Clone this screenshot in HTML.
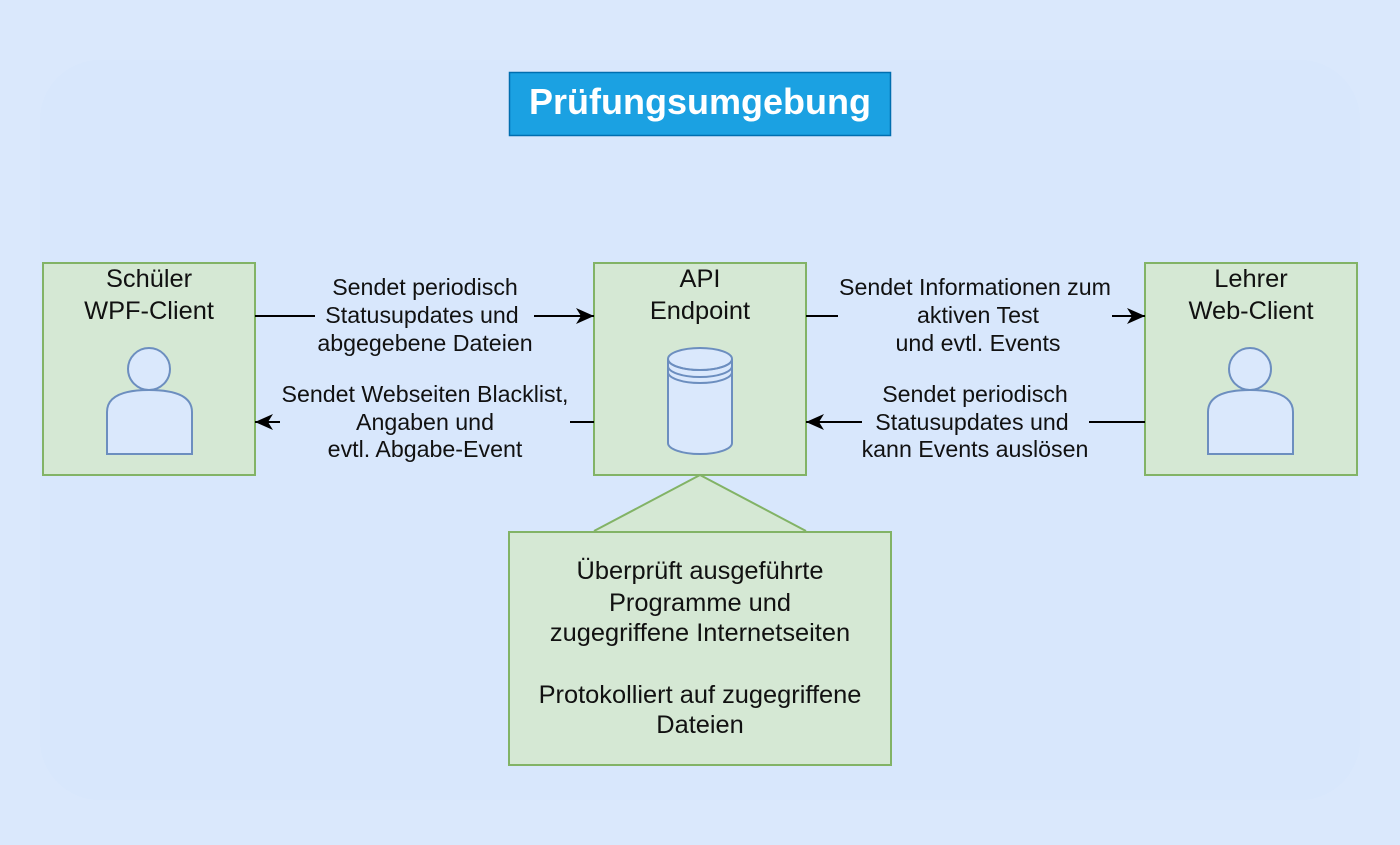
<!DOCTYPE html>
<html><head><meta charset="utf-8"><style>
html,body{margin:0;padding:0;background:#dae8fc;}
svg{display:block;}
text{font-family:"Liberation Sans",Arial,sans-serif;fill:#111;}
</style></head><body>
<svg width="1400" height="845" viewBox="0 0 1400 845" xmlns="http://www.w3.org/2000/svg">
<defs>
<marker id="ah" markerWidth="20" markerHeight="20" refX="18" refY="10" orient="auto" markerUnits="userSpaceOnUse">
<path d="M0,2 L18,10 L0,18 L5,10 Z" fill="#000"/>
</marker>
</defs>
<rect width="1400" height="845" fill="#dae8fc"/>
<rect x="40" y="60" width="1320" height="740" rx="60" fill="#d7e6fb" opacity="0.6"/>
<rect x="509.5" y="72.5" width="381" height="63" fill="#1ba1e2" stroke="#006eaf" stroke-width="1.5"/>
<text x="700" y="114" font-size="36" font-weight="bold" text-anchor="middle" style="fill:#fff">Prüfungsumgebung</text>

<g fill="#d5e8d4" stroke="#82b366" stroke-width="2">
<rect x="43" y="263" width="212" height="212"/>
<rect x="594" y="263" width="212" height="212"/>
<rect x="1145" y="263" width="212" height="212"/>
<path d="M594,531 L700,475 L806,531"/>
<rect x="509" y="532" width="382" height="233"/>
</g>

<g font-size="25.4" text-anchor="middle">
<text x="149" y="287">Schüler</text><text x="149" y="319">WPF-Client</text>
<text x="700" y="287">API</text><text x="700" y="319">Endpoint</text>
<text x="1251" y="287">Lehrer</text><text x="1251" y="319">Web-Client</text>
<text x="700" y="579">Überprüft ausgeführte</text>
<text x="700" y="611">Programme und</text>
<text x="700" y="641">zugegriffene Internetseiten</text>
<text x="700" y="703">Protokolliert auf zugegriffene</text>
<text x="700" y="733">Dateien</text>
</g>

<g fill="#dae8fc" stroke="#6c8ebf" stroke-width="2">
<path d="M107,454 L107,412 Q107,390 149,390 Q192,390 192,412 L192,454 Z"/>
<circle cx="149" cy="369" r="21"/>
<path d="M1208,454 L1208,412 Q1208,390 1250,390 Q1293,390 1293,412 L1293,454 Z"/>
<circle cx="1250" cy="369" r="21"/>
<path d="M668,359 L668,443 A32,11 0 0 0 732,443 L732,359"/>
<ellipse cx="700" cy="359" rx="32" ry="11"/>
<path d="M668,359 A32,11 0 0 0 732,359 M668,366 A32,11 0 0 0 732,366 M668,372 A32,11 0 0 0 732,372" fill="none"/>
</g>

<g stroke="#000" stroke-width="2" fill="none">
<line x1="255" y1="316" x2="315" y2="316"/>
<line x1="534" y1="316" x2="594" y2="316" marker-end="url(#ah)"/>
<line x1="806" y1="316" x2="838" y2="316"/>
<line x1="1112" y1="316" x2="1145" y2="316" marker-end="url(#ah)"/>
<line x1="594" y1="422" x2="570" y2="422"/>
<line x1="280" y1="422" x2="255" y2="422" marker-end="url(#ah)"/>
<line x1="1145" y1="422" x2="1089" y2="422"/>
<line x1="862" y1="422" x2="806" y2="422" marker-end="url(#ah)"/>
</g>

<g font-size="23.2" text-anchor="middle">
<text x="425" y="295">Sendet periodisch</text>
<text x="422" y="323">Statusupdates und</text>
<text x="425" y="351">abgegebene Dateien</text>
<text x="975" y="295">Sendet Informationen zum</text>
<text x="978" y="323">aktiven Test</text>
<text x="978" y="351">und evtl. Events</text>
<text x="425" y="402">Sendet Webseiten Blacklist,</text>
<text x="425" y="430">Angaben und</text>
<text x="425" y="457">evtl. Abgabe-Event</text>
<text x="975" y="402">Sendet periodisch</text>
<text x="972" y="430">Statusupdates und</text>
<text x="975" y="457">kann Events auslösen</text>
</g>
</svg>
</body></html>
